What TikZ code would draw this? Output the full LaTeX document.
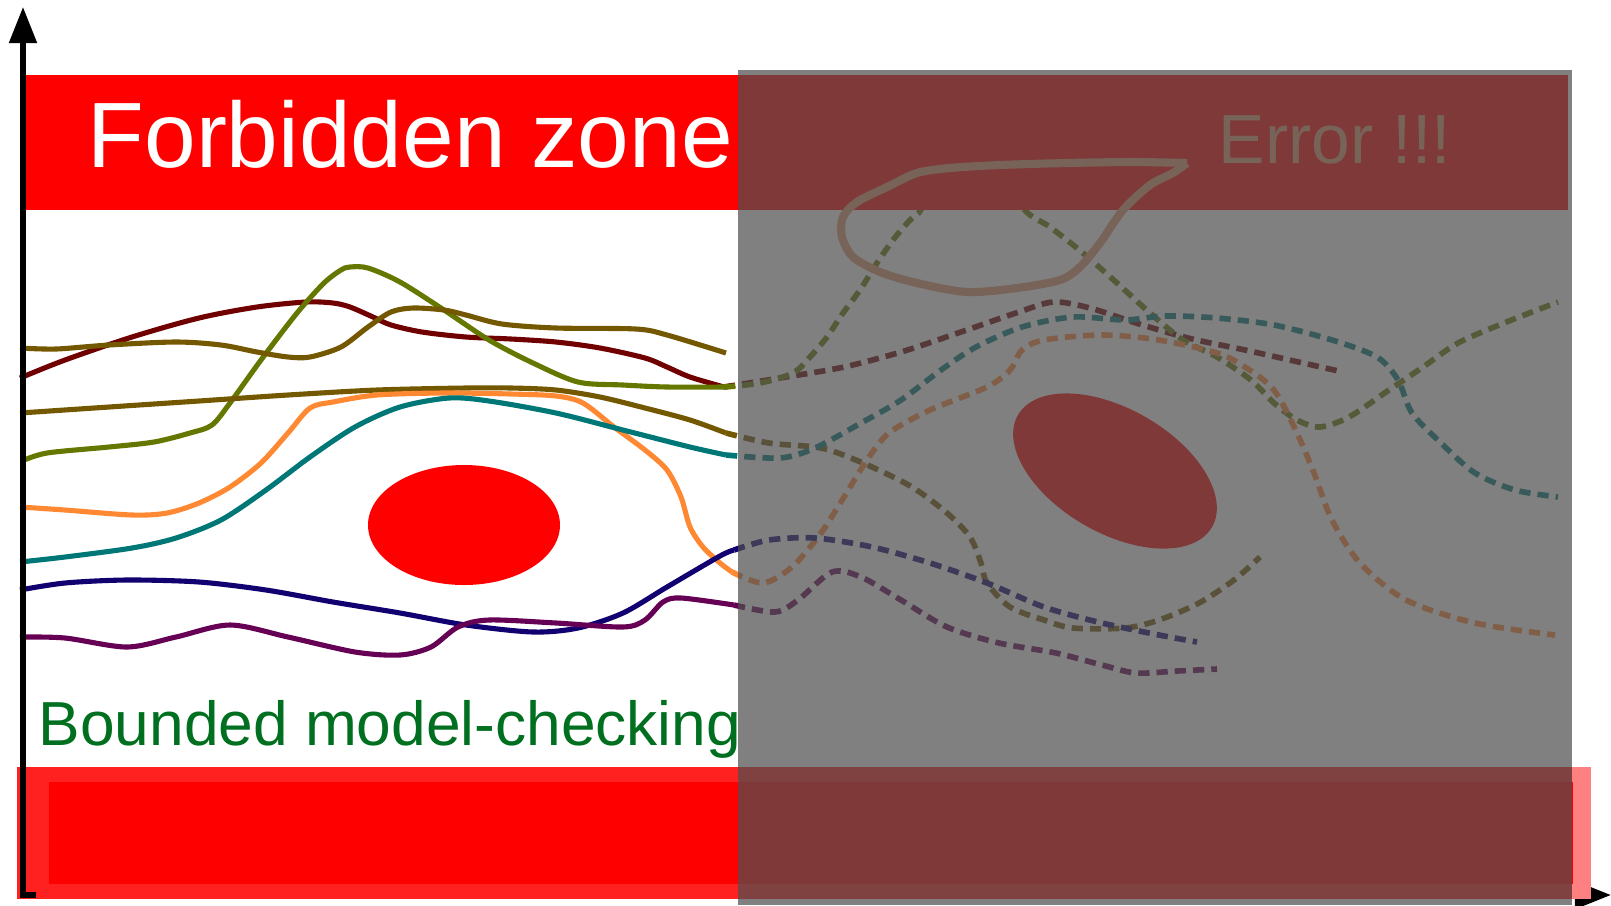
\documentclass[tikz,border=0pt]{standalone}
\usepackage{fontspec}
\setmainfont{Liberation Sans}
\usepackage{tikz}
\usetikzlibrary{arrows.meta}
\usepackage{xcolor}

\definecolor{runmaroon}{RGB}{112,0,0}
\definecolor{runolive}{RGB}{102,119,0}
\definecolor{runbrown}{RGB}{115,88,0}
\definecolor{runorange}{RGB}{255,136,51}
\definecolor{runteal}{RGB}{0,119,119}
\definecolor{runnavy}{RGB}{16,0,112}
\definecolor{runpurple}{RGB}{102,0,85}
\definecolor{bmcgreen}{RGB}{0,112,32}
\definecolor{errtone}{RGB}{225,154,111}
\definecolor{foggray}{RGB}{79,79,79}
\definecolor{barred}{RGB}{255,32,32}
\definecolor{barpink}{RGB}{255,128,128}

\begin{document}
\begin{tikzpicture}[
        x=0.01cm, y=-0.01cm,
        axis/.style={line width=1.45pt, -{Triangle[length=0.36cm, width=0.27cm]}},
        run/.style={line width=1.45pt, line join=round},
        runext/.style={run, line width=1.6pt, dash pattern=on 3.2pt off 2pt},
        title/.style={inner sep=0pt, anchor=base west}
    ]
    \useasboundingbox (0,0) rectangle (1611,905);

    % Axes
    \coordinate (foot) at (33,895);
    \coordinate (origin) at (23,895);
    \coordinate (ytip) at (23,7);
    \coordinate (xtip) at (1611,895);
    \draw[axis] (origin) -- (xtip);

    % Runs
    \draw[run, runmaroon] plot[smooth] coordinates {(20,378) (65,360) (132,337) (199,318) (257,307) (306,302) (333,303) (350,307) (373,317) (391,325) (422,332) (466,337) (511,339) (556,342) (600,348) (645,358) (667,367) (690,377) (724,387)};
    \draw[runext, runmaroon] plot[smooth] coordinates {(724,387) (786,377) (844,367) (901,352) (958,333) (1016,313) (1053,302) (1090,308) (1136,323) (1188,338) (1245,350) (1303,363) (1343,372)};

    \draw[run, runolive] plot[smooth] coordinates {(22,461) (47,453) (109,447) (154,442) (190,433) (212,425) (230,403) (261,360) (297,313) (324,283) (341,270) (350,267) (368,268) (400,282) (444,310) (489,340) (533,363) (578,382) (623,385) (667,387) (724,387)};
    \draw[runext, runolive] plot[smooth] coordinates {(724,387) (760,383) (793,373) (810,357) (827,337) (843,313) (860,290) (877,263) (893,240) (910,220) (922,208) (950,150) (990,150) (1023,208) (1050,227) (1083,253) (1117,283) (1150,313) (1183,340) (1217,357) (1251,380) (1274,403) (1297,420) (1320,427) (1349,417) (1389,390) (1423,367) (1458,343) (1504,323) (1558,302)};

    \draw[run, runbrown] plot[smooth] coordinates {(20,348) (56,349) (109,345) (176,342) (221,345) (257,352) (288,357) (310,357) (341,347) (368,327) (391,312) (413,308) (444,310) (466,315) (502,324) (556,328) (636,329) (667,335) (726,353)};

    \draw[run, runbrown] plot[smooth] coordinates {(20,413) (109,407) (199,401) (288,395) (377,390) (466,388) (511,388) (556,390) (600,397) (645,408) (690,420) (726,433)};
    \draw[runext, runbrown] plot[smooth] coordinates {(726,433) (769,443) (815,447) (838,453) (872,467) (912,487) (947,513) (970,537) (981,563) (987,583) (1010,607) (1044,620) (1073,628) (1125,628) (1159,620) (1199,603) (1234,580) (1260,557)};

    \draw[run, runorange] plot[smooth] coordinates {(20,507) (65,510) (132,515) (167,513) (199,503) (230,487) (261,463) (288,433) (310,408) (333,402) (377,395) (444,393) (511,394) (556,396) (583,403) (614,427) (645,450) (667,470) (681,497) (690,527) (703,547) (720,563) (732,572)};
    \draw[runext, runorange] plot[smooth] coordinates {(732,572) (763,583) (792,567) (821,533) (844,497) (867,460) (889,433) (930,410) (987,387) (1010,370) (1022,350) (1044,340) (1102,335) (1159,340) (1217,353) (1245,367) (1274,390) (1297,433) (1314,473) (1332,520) (1360,563) (1406,600) (1475,623) (1555,635)};

    \draw[run, runteal] plot[smooth] coordinates {(20,562) (65,557) (132,548) (176,538) (221,520) (266,490) (310,457) (355,427) (400,407) (449,398) (489,401) (556,413) (623,430) (690,447) (726,455)};
    \draw[runext, runteal] plot[smooth] coordinates {(726,455) (780,458) (815,448) (861,423) (901,400) (941,370) (976,347) (1022,327) (1073,317) (1125,320) (1165,316) (1217,318) (1274,325) (1332,340) (1377,357) (1398,380) (1412,413) (1441,443) (1475,473) (1515,490) (1558,497)};

    \draw[run, runnavy] plot[smooth] coordinates {(20,590) (65,583) (127,580) (199,582) (266,590) (333,602) (400,613) (466,625) (533,632) (578,628) (623,613) (667,587) (720,556) (734,550)};
    \draw[runext, runnavy] plot[smooth] coordinates {(734,550) (769,540) (815,538) (872,547) (930,563) (987,583) (1044,607) (1102,623) (1159,635) (1197,642)};

    \draw[run, runpurple] plot[smooth] coordinates {(20,637) (65,638) (127,647) (176,637) (230,625) (288,637) (355,652) (400,655) (431,647) (458,627) (489,620) (556,623) (623,627) (645,620) (663,602) (681,598) (734,605)};
    \draw[runext, runpurple] plot[smooth] coordinates {(734,605) (775,612) (798,600) (832,572) (861,577) (901,600) (947,627) (999,643) (1056,653) (1102,665) (1136,673) (1177,671) (1217,669)};

    % Obstacles
    \fill[red] (464,525) ellipse (96 and 60);
    \fill[red, rotate around={-30:(1115,471)}] (1115,471) ellipse (112 and 62);

    % Zones
    \fill[red] (25,75) rectangle (1568,210);
    \fill[barred] (17,767) rectangle (1572,899);
    \fill[barpink] (1572,767) rectangle (1591,899);
    \fill[red] (49,782) rectangle (1573,884);

    % Error trace
    \draw[errtone, line width=2.3pt, line join=round] plot[smooth] coordinates {(1187,163) (1133,162) (1067,163) (1000,165) (950,168) (917,173) (887,187) (857,202) (843,217) (842,237) (853,257) (880,272) (917,283) (967,292) (1017,288) (1060,280) (1080,267) (1100,243) (1123,210) (1150,185) (1173,173) (1187,163)};
    \node[title, text=errtone, font=\fontsize{19.8}{22}\selectfont] (error) at (1218,163) {Error !!!};

    % Labels
    \node[title, text=white, font=\fontsize{26.4}{30}\selectfont] (forbidden) at (87,167) {Forbidden zone};
    \node[title, text=bmcgreen, font=\fontsize{17.7}{20}\selectfont] (bmc) at (38,745) {Bounded model-checking};

    % Unexplored part
    \fill[foggray, fill opacity=0.72] (738,70) rectangle (1572,905);

    \draw[axis, line cap=rect] (foot) -- (origin) -- (ytip);
\end{tikzpicture}
\end{document}
